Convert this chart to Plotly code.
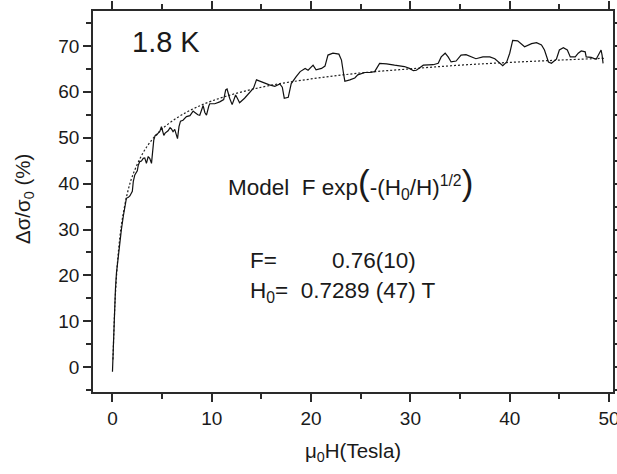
import plotly.graph_objects as go

field_T = [0.0, 0.03, 0.06, 0.1, 0.15, 0.2, 0.3, 0.4, 0.56, 0.7, 0.9, 1.1, 1.25, 1.4, 1.6, 1.75,
           2.0, 2.1, 2.25, 2.5, 2.6, 2.75, 2.92, 3.1, 3.25, 3.42, 3.6, 3.75, 3.93, 4.05, 4.16, 4.3,
           4.45, 4.6, 4.76, 4.93, 5.05, 5.17, 5.3, 5.6, 5.8, 5.94, 6.1, 6.27, 6.45, 6.55, 6.7, 6.85,
           7.1, 7.45, 7.8, 8.12, 8.3, 8.6, 8.79, 9.0, 9.13, 9.3, 9.47, 9.7, 9.8, 10.3, 10.8, 11.2,
           11.4, 11.54, 11.7, 11.8, 12.05, 12.2, 12.4, 12.6, 12.8, 13.3, 13.8, 14.2, 14.5, 15.2,
           15.8, 16.35, 16.85, 17.1, 17.3, 17.7, 18.0, 18.5, 18.9, 19.4, 19.7, 20.2, 20.5, 21.05,
           21.4, 21.7, 22.2, 22.8, 23.06, 23.3, 23.4, 23.9, 24.4, 24.7, 25.4, 25.9, 26.4, 26.9,
           27.6, 28.4, 29.4, 29.9, 30.3, 30.6, 31.3, 32.3, 32.8, 33.1, 33.5, 33.8, 34.1, 34.6,
           35.1, 35.6, 36.1, 36.6, 37.3, 38.0, 38.5, 39.0, 39.3, 39.7, 40.0, 40.3, 40.8, 41.5,
           42.2, 42.7, 43.2, 43.5, 43.9, 44.2, 44.7, 45.0, 45.4, 45.8, 46.1, 46.6, 46.9, 47.2,
           47.6, 47.7, 48.2, 48.7, 48.9, 49.2, 49.3, 49.4]
dsigma_pct = [-1.0, 1.0, 4.0, 7.0, 10.5, 13.0, 17.0, 20.5, 23.8, 27.0, 30.0, 33.0, 35.5, 36.8, 37.0, 37.3,
              38.3, 40.5, 41.9, 42.8, 44.0, 44.8, 44.9, 45.5, 45.6, 44.4, 45.9, 45.5, 44.4, 47.5, 49.5, 50.5,
              50.6, 51.0, 51.3, 52.4, 51.2, 50.5, 51.0, 51.5, 52.2, 51.9, 51.3, 51.8, 50.5, 49.8, 52.4, 53.6,
              53.8, 54.6, 54.8, 55.8, 55.5, 55.0, 54.9, 56.5, 57.0, 55.5, 54.9, 56.9, 57.4, 57.4, 57.8, 58.3,
              60.4, 60.6, 59.3, 58.6, 57.2, 58.3, 59.3, 58.5, 57.6, 58.6, 59.7, 60.8, 62.6, 62.0,
              61.5, 61.2, 61.7, 61.0, 58.6, 58.8, 61.8, 63.3, 64.4, 65.1, 64.7, 65.8, 64.8, 65.1,
              65.6, 68.0, 68.4, 68.2, 66.9, 63.5, 62.3, 62.6, 63.0, 63.7, 64.2, 64.2, 64.4, 66.2,
              66.1, 65.8, 65.5, 65.1, 64.6, 64.7, 65.8, 65.9, 66.2, 67.6, 68.4, 67.6, 66.5, 66.7,
              68.0, 68.1, 67.6, 67.2, 67.6, 67.6, 67.2, 66.2, 65.7, 66.5, 68.4, 71.2, 71.1, 69.8,
              70.5, 70.7, 70.2, 69.1, 66.5, 66.2, 67.1, 69.1, 69.6, 69.1, 67.6, 67.6, 68.4, 68.9,
              68.7, 67.6, 67.5, 67.1, 68.0, 69.1, 68.0, 66.2]

# Model curve (dotted)
fit_field_T = [0.05, 0.1, 0.2, 0.3, 0.5, 0.75, 1, 1.5, 2, 3, 4, 5, 7, 10, 15, 20, 25, 30, 35, 40, 45, 49.5]
fit_pct = [1.7, 5.1, 11.3, 16.0, 22.7, 28.4, 32.4, 37.9, 41.6, 46.4, 49.6, 51.9, 55.0, 58.0, 61.0,
           62.8, 64.1, 65.0, 65.8, 66.4, 66.9, 67.3]

x_ticks = [0, 10, 20, 30, 40, 50]
y_ticks = [0, 10, 20, 30, 40, 50, 60, 70]

FONT = "Liberation Sans, Arial, sans-serif"
INK = "#1a1a1a"
AX = "#2a2a2a"

fig = go.Figure()
fig.add_trace(go.Scatter(x=fit_field_T, y=fit_pct, mode="lines", line_shape="spline",
                         line=dict(color="#222", width=1.2, dash="2px,2px"), hoverinfo="skip"))
fig.add_trace(go.Scatter(x=field_T, y=dsigma_pct, mode="lines",
                         line=dict(color="#111", width=1.2), hoverinfo="skip"))

axis_common = dict(showgrid=False, zeroline=False, showline=True, linecolor=AX, linewidth=1.6,
                   mirror="ticks", ticks="outside", ticklen=8, tickwidth=1.6, tickcolor=AX,
                   automargin=False, ticklabeloverflow="allow",
                   tickfont=dict(family=FONT, size=19, color=INK))
fig.update_xaxes(range=[-1.96, 50.4], tickvals=x_ticks, ticktext=[str(v) for v in x_ticks],
                 minor=dict(dtick=5, tick0=0, ticks="outside", ticklen=5, tickwidth=1.6, tickcolor=AX),
                 **axis_common)
fig.update_yaxes(range=[-5.4, 77.6], tickvals=y_ticks, ticktext=[str(v) for v in y_ticks],
                 minor=dict(dtick=5, tick0=0, ticks="outside", ticklen=5, tickwidth=1.6, tickcolor=AX),
                 **axis_common)

def px_x(p):
    return (p - 93) / 520.0

def px_y(p):
    return (392 - p) / 381.0

annots = [
    dict(text="1.8 K", x=px_x(130), y=px_y(42), xanchor="left", yanchor="middle", size=29),
    dict(text="Model  F exp<span style='font-size:35px'>(</span>-(H<sub>0</sub>/H)<sup>1/2</sup><span style='font-size:35px'>)</span>",
         x=px_x(226), y=px_y(183), xanchor="left", yanchor="middle", size=22.5),
    dict(text="F=", x=px_x(248), y=px_y(260), xanchor="left", yanchor="middle", size=22.5),
    dict(text="0.76(10)", x=px_x(330), y=px_y(260), xanchor="left", yanchor="middle", size=22.5),
    dict(text="H<sub>0</sub>=  0.7289 (47) T", x=px_x(248), y=px_y(292), xanchor="left", yanchor="middle", size=22.5),
    dict(text="\u03bc<sub>0</sub>H(Tesla)", x=px_x(353), y=px_y(452), xanchor="center", yanchor="middle", size=20.5),
    dict(text="\u0394\u03c3/\u03c3<sub>0</sub> (%)", x=px_x(24), y=px_y(199), xanchor="center", yanchor="middle", size=20.5, textangle=-90),
]
for a in annots:
    fig.add_annotation(text=a["text"], x=a["x"], y=a["y"], xref="paper", yref="paper",
                       xanchor=a["xanchor"], yanchor=a["yanchor"], showarrow=False,
                       textangle=a.get("textangle", 0),
                       font=dict(family=FONT, size=a["size"], color=INK))

fig.update_layout(width=617, height=474, margin=dict(l=93, r=4, t=11, b=82),
                  paper_bgcolor="white", plot_bgcolor="white", showlegend=False)

fig.write_html("out.html")
